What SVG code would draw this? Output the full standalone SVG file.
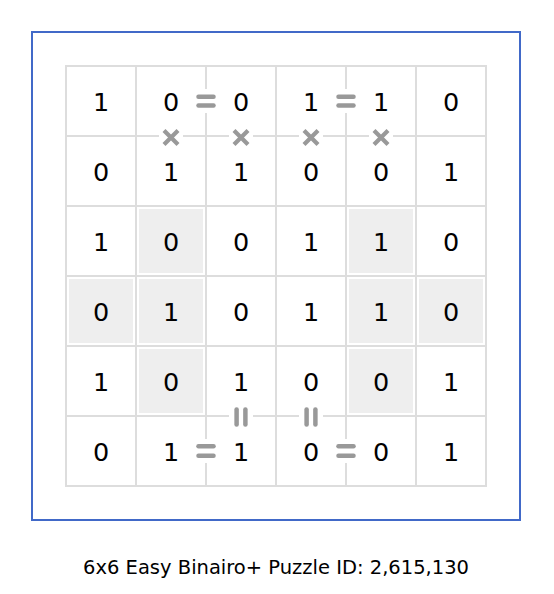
<svg xmlns="http://www.w3.org/2000/svg" width="554" height="594" viewBox="0 0 554 594">
<defs>
<style>
.frame{fill:none;stroke:#4169c8;stroke-width:2}
.grid line{stroke:#dddddd;stroke-width:2}
.shade{fill:#eeeeee}
.gap{fill:#ffffff}
.sym{stroke:#999999;stroke-width:4.5;stroke-linecap:round;fill:none}
.xs{stroke:#999999;stroke-width:4.2;stroke-linecap:butt;fill:none}
.d{font-family:"DejaVu Sans","Verdana",sans-serif;font-size:25.5px;fill:#000;text-anchor:middle}
.cap{font-family:"DejaVu Sans","Verdana",sans-serif;font-size:19.5px;fill:#000;text-anchor:middle}
</style>
</defs>
<rect width="554" height="594" fill="#ffffff"/>
<rect class="frame" x="32" y="32" width="488" height="488"/>
<g id="shading">
<rect class="shade" x="139" y="209" width="64" height="64"/>
<rect class="shade" x="349" y="209" width="64" height="64"/>
<rect class="shade" x="69" y="279" width="64" height="64"/>
<rect class="shade" x="139" y="279" width="64" height="64"/>
<rect class="shade" x="349" y="279" width="64" height="64"/>
<rect class="shade" x="419" y="279" width="64" height="64"/>
<rect class="shade" x="139" y="349" width="64" height="64"/>
<rect class="shade" x="349" y="349" width="64" height="64"/>
</g>
<g id="grid" class="grid">
<line x1="66" y1="65" x2="66" y2="487"/>
<line x1="136" y1="65" x2="136" y2="487"/>
<line x1="206" y1="65" x2="206" y2="487"/>
<line x1="276" y1="65" x2="276" y2="487"/>
<line x1="346" y1="65" x2="346" y2="487"/>
<line x1="416" y1="65" x2="416" y2="487"/>
<line x1="486" y1="65" x2="486" y2="487"/>
<line x1="65" y1="66" x2="487" y2="66"/>
<line x1="65" y1="136" x2="487" y2="136"/>
<line x1="65" y1="206" x2="487" y2="206"/>
<line x1="65" y1="276" x2="487" y2="276"/>
<line x1="65" y1="346" x2="487" y2="346"/>
<line x1="65" y1="416" x2="487" y2="416"/>
<line x1="65" y1="486" x2="487" y2="486"/>
</g>
<g id="connectors">
<g id="eq-r0-c1c2">
<rect class="gap" x="202" y="89" width="8" height="24"/>
<line class="sym" x1="198.5" y1="96.8" x2="213.5" y2="96.8"/>
<line class="sym" x1="198.5" y1="105.6" x2="213.5" y2="105.6"/>
</g>
<g id="eq-r0-c3c4">
<rect class="gap" x="342" y="89" width="8" height="24"/>
<line class="sym" x1="338.5" y1="96.8" x2="353.5" y2="96.8"/>
<line class="sym" x1="338.5" y1="105.6" x2="353.5" y2="105.6"/>
</g>
<g id="x-c1">
<rect class="gap" x="159" y="132" width="24" height="8"/>
<path class="xs" d="M164 130.5 L178 144.5 M178 130.5 L164 144.5"/>
</g>
<g id="x-c2">
<rect class="gap" x="229" y="132" width="24" height="8"/>
<path class="xs" d="M234 130.5 L248 144.5 M248 130.5 L234 144.5"/>
</g>
<g id="x-c3">
<rect class="gap" x="299" y="132" width="24" height="8"/>
<path class="xs" d="M304 130.5 L318 144.5 M318 130.5 L304 144.5"/>
</g>
<g id="x-c4">
<rect class="gap" x="369" y="132" width="24" height="8"/>
<path class="xs" d="M374 130.5 L388 144.5 M388 130.5 L374 144.5"/>
</g>
<g id="eqv-c2">
<rect class="gap" x="229" y="412" width="24" height="8"/>
<line class="sym" x1="236.6" y1="409.5" x2="236.6" y2="424.5"/>
<line class="sym" x1="245.4" y1="409.5" x2="245.4" y2="424.5"/>
</g>
<g id="eqv-c3">
<rect class="gap" x="299" y="412" width="24" height="8"/>
<line class="sym" x1="306.6" y1="409.5" x2="306.6" y2="424.5"/>
<line class="sym" x1="315.4" y1="409.5" x2="315.4" y2="424.5"/>
</g>
<g id="eq-r5-c1c2">
<rect class="gap" x="202" y="439" width="8" height="24"/>
<line class="sym" x1="198.5" y1="446.3" x2="213.5" y2="446.3"/>
<line class="sym" x1="198.5" y1="455.7" x2="213.5" y2="455.7"/>
</g>
<g id="eq-r5-c3c4">
<rect class="gap" x="342" y="439" width="8" height="24"/>
<line class="sym" x1="338.5" y1="446.3" x2="353.5" y2="446.3"/>
<line class="sym" x1="338.5" y1="455.7" x2="353.5" y2="455.7"/>
</g>
</g>
<g id="digits">
<g id="row0">
<text class="d" x="101" y="111">1</text><text class="d" x="171" y="111">0</text><text class="d" x="241" y="111">0</text><text class="d" x="311" y="111">1</text><text class="d" x="381" y="111">1</text><text class="d" x="451" y="111">0</text>
</g>
<g id="row1">
<text class="d" x="101" y="181">0</text><text class="d" x="171" y="181">1</text><text class="d" x="241" y="181">1</text><text class="d" x="311" y="181">0</text><text class="d" x="381" y="181">0</text><text class="d" x="451" y="181">1</text>
</g>
<g id="row2">
<text class="d" x="101" y="251">1</text><text class="d" x="171" y="251">0</text><text class="d" x="241" y="251">0</text><text class="d" x="311" y="251">1</text><text class="d" x="381" y="251">1</text><text class="d" x="451" y="251">0</text>
</g>
<g id="row3">
<text class="d" x="101" y="321">0</text><text class="d" x="171" y="321">1</text><text class="d" x="241" y="321">0</text><text class="d" x="311" y="321">1</text><text class="d" x="381" y="321">1</text><text class="d" x="451" y="321">0</text>
</g>
<g id="row4">
<text class="d" x="101" y="391">1</text><text class="d" x="171" y="391">0</text><text class="d" x="241" y="391">1</text><text class="d" x="311" y="391">0</text><text class="d" x="381" y="391">0</text><text class="d" x="451" y="391">1</text>
</g>
<g id="row5">
<text class="d" x="101" y="461">0</text><text class="d" x="171" y="461">1</text><text class="d" x="241" y="461">1</text><text class="d" x="311" y="461">0</text><text class="d" x="381" y="461">0</text><text class="d" x="451" y="461">1</text>
</g>
</g>
<text id="caption" class="cap" x="276" y="574">6x6 Easy Binairo+ Puzzle ID: 2,615,130</text>
</svg>
